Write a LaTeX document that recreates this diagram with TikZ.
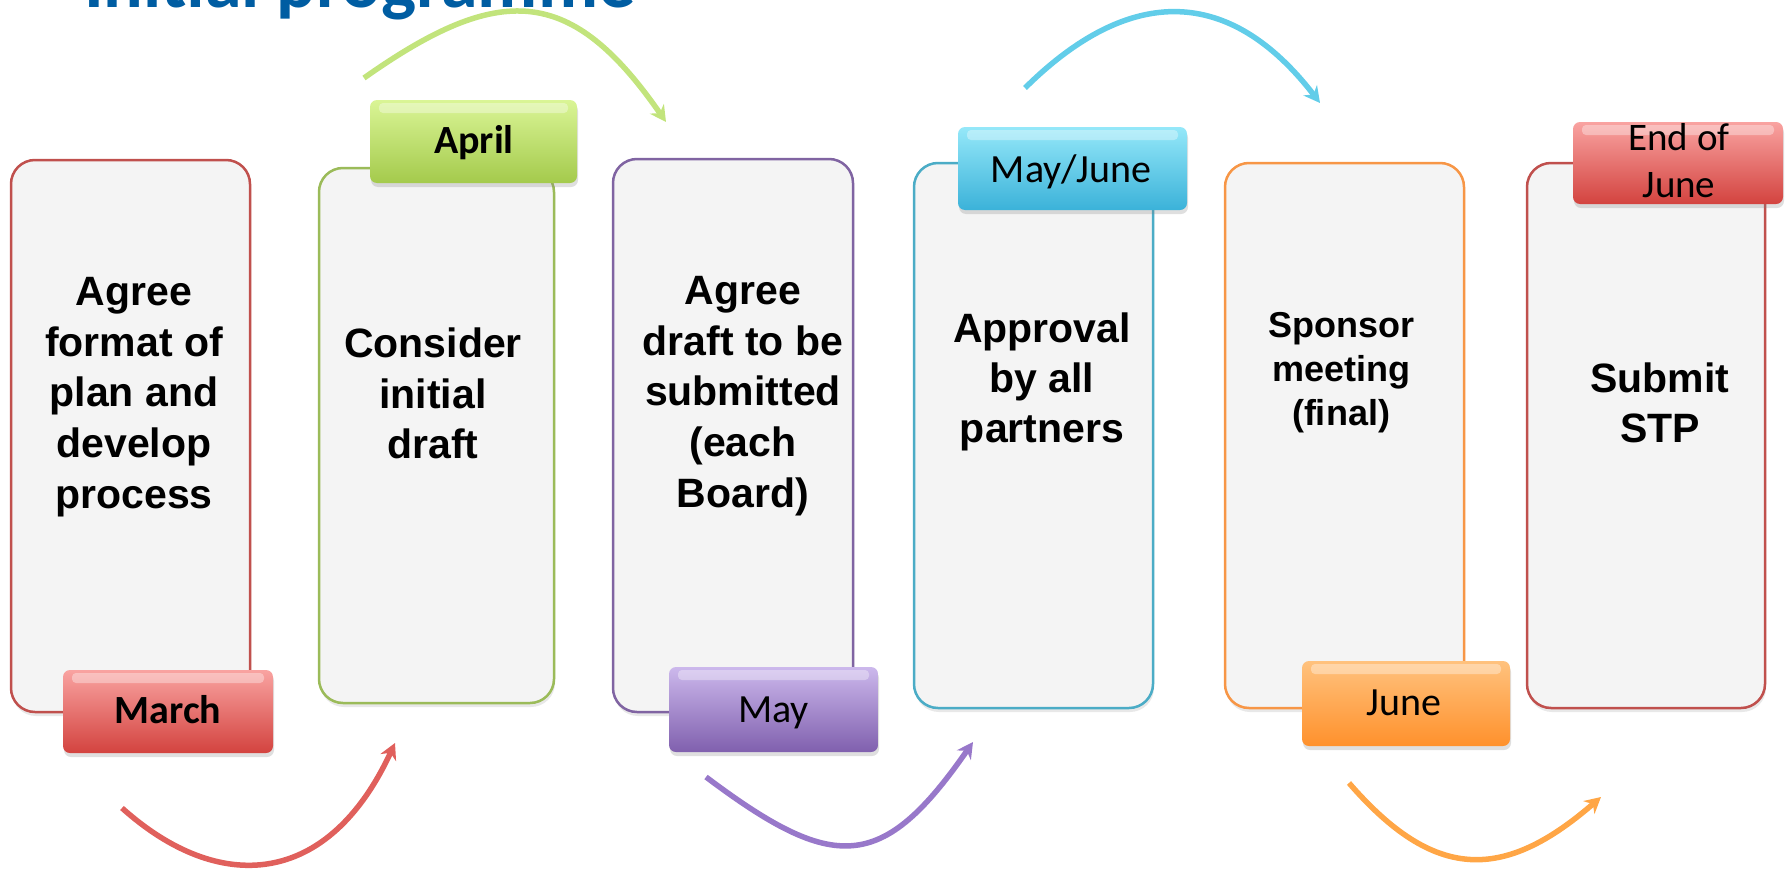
\documentclass[tikz,border=0pt]{standalone}
\usepackage{fontspec}
\setmainfont{Liberation Sans}
\newfontfamily\calfont{Carlito}
\usetikzlibrary{arrows.meta,shadows}
\definecolor{bRed}{HTML}{C0504D}
\definecolor{bGreen}{HTML}{9BBB59}
\definecolor{bPurple}{HTML}{8064A2}
\definecolor{bCyan}{HTML}{4BACC6}
\definecolor{bOrange}{HTML}{F79646}
\definecolor{boxFill}{HTML}{F4F4F4}
\definecolor{titleBlue}{HTML}{005DA2}
\definecolor{tRedT}{HTML}{F9A3A1}
\definecolor{tRedB}{HTML}{D3433F}
\definecolor{tGreenT}{HTML}{DAF596}
\definecolor{tGreenB}{HTML}{A4CA4C}
\definecolor{tPurpleT}{HTML}{CCB8EC}
\definecolor{tPurpleB}{HTML}{8060AE}
\definecolor{tCyanT}{HTML}{95E8F9}
\definecolor{tCyanB}{HTML}{3BB2D9}
\definecolor{tOrangeT}{HTML}{FFC27E}
\definecolor{tOrangeB}{HTML}{FF912C}
\definecolor{aRed}{HTML}{E0605C}
\definecolor{aGreen}{HTML}{C2E47C}
\definecolor{aPurple}{HTML}{9878CA}
\definecolor{aCyan}{HTML}{62CDE9}
\definecolor{aOrange}{HTML}{FFA646}
\newcommand\mystrut{\rule{0pt}{32pt}}
\begin{document}
\begin{tikzpicture}[x=1pt,y=-1pt,
  stepbox/.style={draw=#1, line width=2.5pt, fill=boxFill, rounded corners=24pt,
    inner sep=0pt, drop shadow={shadow xshift=1pt, shadow yshift=-4pt, opacity=0.18}},
  tagbox/.style 2 args={rounded corners=7pt, top color=#1, bottom color=#2, draw=none,
    inner sep=0pt, drop shadow={shadow xshift=1pt, shadow yshift=-4pt, opacity=0.25},
    path picture={\fill[white,opacity=0.35,rounded corners=4pt]
      ([xshift=9pt,yshift=-3pt]path picture bounding box.north west) rectangle
      ([xshift=-9pt,yshift=-13pt]path picture bounding box.north east);}},
  steptext/.style={align=center, inner sep=0pt, anchor=north,
    font=\bfseries\fontsize{41}{50.8}\selectfont},
  tagtext/.style={inner sep=0pt, anchor=base, font=\calfont\fontsize{40}{47}\selectfont},
  arr/.style={draw=#1, line width=5.5pt, -{Stealth[length=16pt,width=17pt]}}
]
\useasboundingbox (0,0) rectangle (1789,870);
\clip (0,0) rectangle (1789,870);

% title (cut off at the top edge, as in the original)
\node[anchor=base west, inner sep=0pt, text=titleBlue,
  font=\calfont\bfseries\fontsize{74}{80}\selectfont] (title) at (84,7) {Initial programme};

% arrows
\coordinate (a1s) at (122,808); \coordinate (a1e) at (395,743);
\coordinate (a2s) at (364,78);  \coordinate (a2e) at (666,122);
\coordinate (a3s) at (706,777); \coordinate (a3e) at (973,742);
\coordinate (a4s) at (1025,88); \coordinate (a4e) at (1320,103);
\coordinate (a5s) at (1349,783); \coordinate (a5e) at (1601,797);
\draw[arr=aRed]    (a1s) .. controls (219,895) and (328,888) .. (a1e);
\draw[arr=aGreen]  (a2s) .. controls (500,-18) and (571,-15) .. (a2e);
\draw[arr=aPurple] (a3s) .. controls (834,873) and (882,873) .. (a3e);
\draw[arr=aCyan]   (a4s) .. controls (1130,-16) and (1230,-14) .. (a4e);
\draw[arr=aOrange] (a5s) .. controls (1434,881) and (1503,882) .. (a5e);

% boxes
\node[stepbox=bRed,    minimum width=239pt, minimum height=552pt] (b1) at (130.5,436) {};
\node[stepbox=bGreen,  minimum width=235pt, minimum height=535pt] (b2) at (436.5,435.5) {};
\node[stepbox=bPurple, minimum width=240pt, minimum height=553pt] (b3) at (733,435.5) {};
\node[stepbox=bCyan,   minimum width=239pt, minimum height=545pt] (b4) at (1033.5,435.5) {};
\node[stepbox=bOrange, minimum width=239pt, minimum height=545pt] (b5) at (1344.5,435.5) {};
\node[stepbox=bRed,    minimum width=238pt, minimum height=545pt] (b6) at (1646,435.5) {};

% box texts (first baseline - 32)
\node[steptext] (t1) at (134,273) {\mystrut Agree\\format of\\plan and\\develop\\process};
\node[steptext] (t2) at (433,325) {\mystrut Consider\\initial\\draft};
\node[steptext] (t3) at (743,272) {\mystrut Agree\\draft to be\\submitted\\(each\\Board)};
\node[steptext, font=\bfseries\fontsize{41}{50}\selectfont] (t4) at (1042,310) {\mystrut Approval\\by all\\partners};
\node[steptext, font=\bfseries\fontsize{36}{44}\selectfont] (t5) at (1341,305) {\mystrut Sponsor\\meeting\\(final)};
\node[steptext, font=\bfseries\fontsize{41}{50}\selectfont] (t6) at (1660,360) {\mystrut Submit\\STP};

% tags
\node[tagbox={tRedT}{tRedB},       minimum width=210pt, minimum height=83pt] (m1) at (168,711.5) {};
\node[tagbox={tGreenT}{tGreenB},   minimum width=207pt, minimum height=83pt] (m2) at (473.5,141.5) {};
\node[tagbox={tPurpleT}{tPurpleB}, minimum width=209pt, minimum height=85pt] (m3) at (773.5,709.5) {};
\node[tagbox={tCyanT}{tCyanB},     minimum width=229pt, minimum height=83pt] (m4) at (1072.5,168.5) {};
\node[tagbox={tOrangeT}{tOrangeB}, minimum width=208pt, minimum height=85pt] (m5) at (1406,703.5) {};
\node[tagbox={tRedT}{tRedB},       minimum width=210pt, minimum height=82pt] (m6) at (1678,163) {};

% tag texts
\node[tagtext, font=\calfont\bfseries\fontsize{40}{47}\selectfont] (l1) at (168,723) {March};
\node[tagtext, font=\calfont\bfseries\fontsize{40}{47}\selectfont] (l2) at (474,153) {April};
\node[tagtext] (l3) at (773.5,722) {May};
\node[tagtext] (l4) at (1071,182) {May/June};
\node[tagtext] (l5) at (1404,715) {June};
\node[tagtext, anchor=north, align=center, font=\calfont\fontsize{39}{47}\selectfont] (l6) at (1679,118) {\mystrut End of\\June};
\end{tikzpicture}
\end{document}
